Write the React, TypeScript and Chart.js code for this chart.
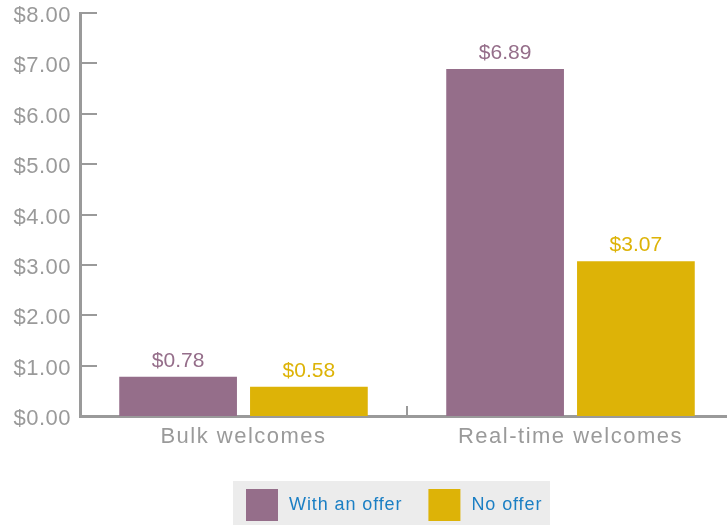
import React, { useEffect, useRef } from "react";
import { Chart, registerables } from "chart.js";

Chart.register(...registerables);

const categories = ["Bulk welcomes", "Real-time welcomes"];
const seriesNames = ["With an offer", "No offer"];
const withOffer = [0.78, 6.89];
const noOffer = [0.58, 3.07];
const yTickValues = [0, 1, 2, 3, 4, 5, 6, 7, 8];

const PURPLE = "#956e8a";
const YELLOW = "#ddb307";
const GRAY = "#9a9a9a";
const BLUE = "#1b7fc4";
const LEGEND_BG = "#ececec";
const FONT = "'Liberation Sans', Arial, Helvetica, sans-serif";

const fmt = (v: number) => "$" + v.toFixed(2);

function patchSpacing(scale: any, spacing: string) {
  if (scale.__patched) return;
  const orig = scale.drawLabels.bind(scale);
  scale.drawLabels = (area: any) => {
    const c: any = scale.ctx;
    const prev = c.letterSpacing;
    c.letterSpacing = spacing;
    orig(area);
    c.letterSpacing = prev || "0px";
  };
  scale.__patched = true;
}

const decorPlugin = {
  id: "decor",
  afterDraw(chart: any) {
    const ctx: any = chart.ctx;
    const area = chart.chartArea;
    const ys = chart.scales.y;
    const xs = chart.scales.x;
    ctx.save();
    // inward y ticks
    ctx.strokeStyle = GRAY;
    ctx.lineWidth = 2;
    yTickValues.forEach((v) => {
      const py = Math.round(ys.getPixelForValue(v));
      ctx.beginPath();
      ctx.moveTo(area.left, py);
      ctx.lineTo(area.left + 17, py);
      ctx.stroke();
    });
    // category boundary tick on x axis
    const bx = Math.round((xs.getPixelForValue(0) + xs.getPixelForValue(1)) / 2);
    ctx.beginPath();
    ctx.moveTo(bx, area.bottom);
    ctx.lineTo(bx, area.bottom - 10);
    ctx.stroke();

    // value labels
    ctx.font = `21px ${FONT}`;
    ctx.textAlign = "center";
    ctx.textBaseline = "alphabetic";
    ctx.letterSpacing = "0px";
    chart.data.datasets.forEach((ds: any, i: number) => {
      const meta = chart.getDatasetMeta(i);
      ctx.fillStyle = ds.backgroundColor;
      meta.data.forEach((bar: any, j: number) => {
        ctx.fillText(fmt(ds.data[j]), bar.x, bar.y - 10);
      });
    });

    // legend
    const lgLeft = 233;
    const lgTop = 481;
    ctx.fillStyle = LEGEND_BG;
    ctx.fillRect(lgLeft, lgTop, 317, 60);
    ctx.font = `18px ${FONT}`;
    ctx.letterSpacing = "0.9px";
    ctx.textAlign = "left";
    ctx.textBaseline = "middle";
    let x = lgLeft + 13;
    chart.data.datasets.forEach((ds: any) => {
      ctx.fillStyle = ds.backgroundColor;
      ctx.fillRect(x, lgTop + 8, 32, 32);
      ctx.fillStyle = BLUE;
      ctx.fillText(ds.label, x + 43, lgTop + 24);
      const w = ctx.measureText(ds.label).width;
      x += 43 + w + 26;
    });
    ctx.letterSpacing = "0px";
    ctx.restore();
  },
};

export default function App() {
  const ref = useRef<HTMLCanvasElement>(null);

  useEffect(() => {
    document.documentElement.style.overflow = "hidden";
    document.body.style.overflow = "hidden";
    const chart = new Chart(ref.current as HTMLCanvasElement, {
      type: "bar",
      data: {
        labels: categories,
        datasets: [
          {
            label: seriesNames[0],
            data: withOffer,
            backgroundColor: PURPLE,
            borderWidth: 0,
            barPercentage: 0.9,
            categoryPercentage: 0.8,
          },
          {
            label: seriesNames[1],
            data: noOffer,
            backgroundColor: YELLOW,
            borderWidth: 0,
            barPercentage: 0.9,
            categoryPercentage: 0.8,
          },
        ],
      },
      options: {
        animation: false,
        responsive: true,
        maintainAspectRatio: false,
        layout: { padding: { top: 13, right: 6, bottom: 0, left: 0 } },
        plugins: {
          legend: { display: false },
          tooltip: { enabled: false },
        },
        scales: {
          x: {
            grid: { display: false, drawTicks: false },
            border: { display: true, color: GRAY, width: 3 },
            ticks: {
              color: GRAY,
              font: { family: FONT, size: 22 },
              padding: 8,
              maxRotation: 0,
            },
            afterFit: (s: any) => {
              s.height = 109;
              s.paddingLeft = 0;
              s.paddingRight = 0;
              patchSpacing(s, "1.5px");
            },
          },
          y: {
            min: 0,
            max: 8,
            grid: { display: false, drawTicks: false },
            border: { display: true, color: GRAY, width: 3 },
            ticks: {
              stepSize: 1,
              color: GRAY,
              font: { family: FONT, size: 22 },
              padding: 9,
              labelOffset: 3,
              callback: (v: any) => fmt(Number(v)),
            },
            afterFit: (s: any) => {
              s.width = 80;
              s.paddingTop = 0;
              s.paddingBottom = 0;
              patchSpacing(s, "0.5px");
            },
          },
        },
      },
      plugins: [decorPlugin],
    } as any);
    return () => chart.destroy();
  }, []);

  return (
    <div style={{ position: "fixed", left: 0, top: 0, width: 740, height: 525 }}>
      <canvas ref={ref} />
    </div>
  );
}
